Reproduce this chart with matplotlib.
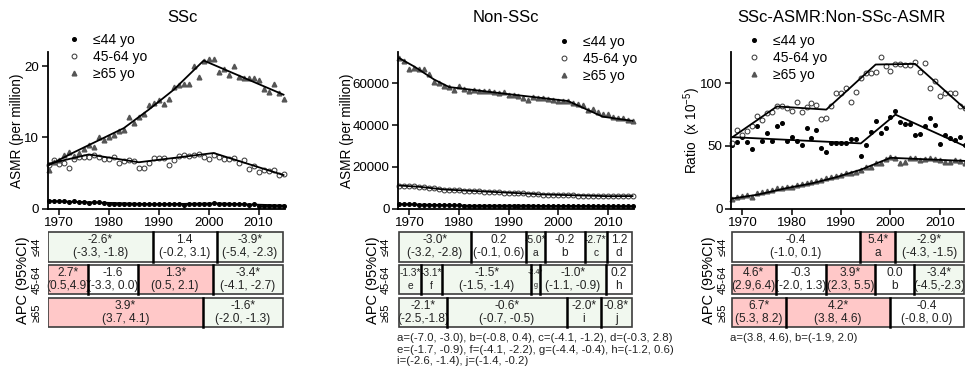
import numpy as np
import matplotlib
matplotlib.use("Agg")
import matplotlib.pyplot as plt
from matplotlib.patches import Rectangle
from matplotlib import transforms

plt.rcParams["font.family"] = ["Liberation Sans", "DejaVu Sans"]
plt.rcParams["mathtext.default"] = "regular"

W, H = 965, 373

years = list(range(1968, 2016))
age_labels = ["≤44 yo", "45-64 yo", "≥65 yo"]
row_labels = ["≤44", "45-64", "≥65"]

# ---- SSc, ASMR (per million)
ssc_le44 = [1.0, 1.1, 1.1, 1.0, 0.9, 1.1, 0.9, 0.9, 0.8, 0.9,
            0.9, 0.8, 0.7, 0.7, 0.7, 0.6, 0.7, 0.6, 0.7, 0.6,
            0.6, 0.6, 0.6, 0.6, 0.6, 0.6, 0.6, 0.5, 0.6, 0.7,
            0.6, 0.7, 0.7, 0.8, 0.7, 0.7, 0.7, 0.6, 0.6, 0.6,
            0.5, 0.6, 0.4, 0.4, 0.4, 0.4, 0.4, 0.3]
ssc_45_64 = [6.1, 6.8, 6.3, 6.4, 5.7, 6.9, 7.2, 7.3, 7.3, 7.5,
             7.3, 7.0, 6.9, 7.3, 6.4, 6.7, 6.8, 6.7, 5.7, 5.7,
             6.4, 7.1, 7.1, 7.1, 6.1, 6.8, 7.4, 7.5, 7.4, 7.5,
             7.7, 7.2, 7.0, 7.5, 7.3, 7.0, 7.0, 7.1, 6.4, 6.8,
             5.6, 6.0, 5.2, 5.4, 5.3, 5.4, 4.7, 4.8]
ssc_ge65 = [5.4, 6.5, 6.8, 7.5, 8.0, 7.4, 7.8, 8.4, 8.9, 8.7,
            10.0, 9.6, 10.0, 10.3, 10.9, 11.1, 12.9, 12.0, 12.8, 13.3,
            14.5, 14.8, 15.3, 14.7, 15.4, 17.1, 17.4, 17.5, 17.5, 20.1,
            18.5, 20.8, 21.0, 21.0, 19.2, 19.6, 18.7, 20.1, 18.5, 18.3,
            18.4, 18.4, 18.0, 16.8, 16.4, 17.5, 16.3, 15.4]
# joinpoint fits: (knot years, fitted values)
ssc_fit_le44 = ([1968, 1989, 2002, 2015], [1.05, 0.60, 0.72, 0.42])
ssc_fit_45_64 = ([1968, 1976, 1986, 2001, 2015], [6.3, 7.6, 6.5, 7.8, 4.7])
ssc_fit_ge65 = ([1968, 1973, 1978, 1983, 1988, 1993, 1999, 2015],
                [6.1, 7.9, 9.6, 11.3, 13.9, 16.7, 20.8, 16.0])

# ---- Non-SSc, ASMR (per million)
nonssc_le44 = [2100, 2040, 1980, 1920, 1860, 1800, 1750, 1700, 1650, 1600,
               1550, 1500, 1460, 1410, 1370, 1380, 1380, 1380, 1390, 1390,
               1390, 1390, 1400, 1400, 1400, 1400, 1400, 1330, 1260, 1200,
               1200, 1200, 1190, 1190, 1190, 1180, 1180, 1180, 1150, 1120,
               1090, 1060, 1030, 1040, 1060, 1070, 1080, 1090]
nonssc_45_64 = [11000, 10900, 10700, 10600, 10400, 10100, 9800, 9600, 9300, 9100,
                8900, 8800, 8700, 8600, 8400, 8300, 8200, 8100, 7900, 7800,
                7700, 7600, 7500, 7400, 7300, 7200, 7100, 7000, 6900, 6700,
                6700, 6600, 6500, 6400, 6300, 6300, 6200, 6100, 6100, 6000,
                6000, 5900, 5900, 5900, 5900, 5900, 6000, 5900]
nonssc_ge65 = [72300, 70800, 67000, 67500, 66900, 66700, 64300, 60800, 60300, 58700,
               58400, 56600, 58800, 57200, 56100, 56900, 56400, 56300, 56100, 55600,
               55300, 56000, 54600, 54200, 53700, 52900, 51900, 53500, 52900, 52800,
               52400, 52100, 51700, 51700, 51300, 50400, 50300, 49500, 47400, 47800,
               46100, 45200, 45400, 43800, 43600, 43200, 42500, 42000]
nonssc_fit_le44 = ([1968, 1982, 1994, 1997, 2005, 2010, 2015],
                   [2100, 1370, 1400, 1200, 1180, 1030, 1090])
nonssc_fit_45_64 = ([1968, 1972, 1977, 1995, 1996, 2010, 2015],
                    [11000, 10400, 9100, 7000, 6800, 5900, 5950])
nonssc_fit_ge65 = ([1968, 1971, 1975, 1978, 1990, 2002, 2009, 2015],
                   [72000, 68000, 61800, 58200, 54800, 51500, 44000, 42000])

# ---- SSc-ASMR : Non-SSc-ASMR ratio (x 10^-5)
ratio_le44 = [50.7, 53.3, 57.3, 53.3, 47.4, 65.8, 54, 60.5, 54, 65.8,
              68.4, 54, 57, 54, 50.7, 64.5, 56, 63, 48, 45.3,
              52, 52, 52, 52, 55.4, 55.4, 42, 50.6, 60.8, 69.8,
              60, 64.5, 73.3, 78, 69.3, 67.7, 67.7, 58.6, 59.2, 66,
              72.5, 66.4, 51.2, 58.6, 56, 54.6, 57.3, 51]
ratio_45_64 = [52, 62.5, 58.5, 62, 66, 74, 70.5, 76, 77, 81.5,
               82, 80.5, 78, 85, 77, 81, 84.5, 83, 71.5, 72.5,
               81.5, 92.5, 92.5, 96.5, 84.8, 93.3, 104.5, 108.5, 108, 109,
               121, 114, 110, 115.5, 115.5, 114.6, 114.6, 117.3, 108.8, 116,
               96.5, 101.8, 90, 92.5, 92.5, 92.5, 82, 80]
ratio_ge65 = [7.5, 9.5, 10.0, 11.0, 9.5, 12.0, 12.8, 14.0, 15.0, 16.0,
              16.5, 17.0, 17.5, 18.5, 19.5, 20.0, 21.0, 22.0, 22.5, 24.0,
              25.0, 26.0, 27.0, 28.5, 28.0, 29.5, 31.0, 33.0, 33.5, 36.0,
              36.5, 39.5, 41.0, 40.0, 36.5, 37.5, 40.5, 40.0, 39.0, 39.5,
              40.0, 39.5, 38.5, 37.0, 37.5, 39.0, 38.0, 36.5]
ratio_fit_le44 = ([1968, 1994, 2001, 2015], [57, 52, 75, 50])
ratio_fit_45_64 = ([1968, 1977, 1987, 1997, 2005, 2015], [57, 81.5, 79, 115, 115.5, 80])
ratio_fit_ge65 = ([1968, 1973, 1979, 1984, 1989, 1994, 2000, 2015],
                  [8.0, 11.0, 16.3, 20.0, 25.0, 31.0, 40.5, 38.0])

# ---- APC tables: joinpoint years per row, cell texts, significance
ssc_breaks = [[1988.8, 2001.6], [1975.8, 1985.8, 2000.8], [1998.8]]
ssc_apc = [[("-2.6*", "(-3.3, -1.8)"), ("1.4", "(-0.2, 3.1)"), ("-3.9*", "(-5.4, -2.3)")],
           [("2.7*", "(0.5,4.9)"), ("-1.6", "(-3.3, 0.0)"), ("1.3*", "(0.5, 2.1)"), ("-3.4*", "(-4.1, -2.7)")],
           [("3.9*", "(3.7, 4.1)"), ("-1.6*", "(-2.0, -1.3)")]]
ssc_sig = [["dn", "ns", "dn"], ["up", "ns", "up", "dn"], ["up", "dn"]]

nonssc_breaks = [[1982.4, 1993.6, 1997.4, 2005.4, 2009.8],
                 [1972.4, 1976.6, 1994.6, 1996.4, 2009.6],
                 [1977.6, 2001.8, 2008.6]]
nonssc_apc = [[("-3.0*", "(-3.2, -2.8)"), ("0.2", "(-0.1, 0.6)"), ("-5.0*", "a"),
               ("-0.2", "b"), ("-2.7*", "c"), ("1.2", "d")],
              [("-1.3*", "e"), ("-3.1*", "f"), ("-1.5*", "(-1.5, -1.4)"), ("-2.4*", "g"),
               ("-1.0*", "(-1.1, -0.9)"), ("0.2", "h")],
              [("-2.1*", "(-2.5,-1.8)"), ("-0.6*", "(-0.7, -0.5)"), ("-2.0*", "i"), ("-0.8*", "j")]]
nonssc_sig = [["dn", "ns", "dn", "ns", "dn", "ns"],
              ["dn", "dn", "dn", "dn", "dn", "ns"],
              ["dn", "dn", "dn", "dn"]]
nonssc_note = ("a=(-7.0, -3.0), b=(-0.8, 0.4), c=(-4.1, -1.2), d=(-0.3, 2.8)\n"
               "e=(-1.7, -0.9), f=(-4.1, -2.2), g=(-4.4, -0.4), h=(-1.2, 0.6)\n"
               "i=(-2.6, -1.4), j=(-1.4, -0.2)")

ratio_breaks = [[1993.8, 2001.0], [1976.8, 1987.0, 1996.8, 2004.8], [1978.8, 2000.0]]
ratio_apc = [[("-0.4", "(-1.0, 0.1)"), ("5.4*", "a"), ("-2.9*", "(-4.3, -1.5)")],
             [("4.6*", "(2.9,6.4)"), ("-0.3", "(-2.0, 1.3)"), ("3.9*", "(2.3, 5.5)"),
              ("0.0", "b"), ("-3.4*", "(-4.5,-2.3)")],
             [("6.7*", "(5.3, 8.2)"), ("4.2*", "(3.8, 4.6)"), ("-0.4", "(-0.8, 0.0)")]]
ratio_sig = [["ns", "up", "dn"], ["up", "ns", "up", "ns", "dn"], ["up", "up", "ns"]]
ratio_note = "a=(3.8, 4.6), b=(-1.9, 2.0)"

FILL = {"up": "#ffc8c8", "dn": "#f1f8ef", "ns": "white"}
XLIM = (1967.7, 2015.3)
T0, T1 = 1967.85, 2014.8


def px_rect(left, top, right, bottom):
    return [left / W, 1 - bottom / H, (right - left) / W, (bottom - top) / H]


def draw_plot(ax, series, fits, ylim, yticks, ylabel, ylabel_dx, legend_xy):
    styles = [dict(marker="o", ms=2.6, color="black"),
              dict(marker="o", ms=3.5, color="#333333", mfc="white", mew=0.7),
              dict(marker="^", ms=3.4, color="#555555")]
    for vals, (kx, ky), st, lab in zip(series, fits, styles, age_labels):
        ax.plot(years, vals, ls="none", label=lab, zorder=2, clip_on=False, **st)
        ax.plot(kx, ky, color="black", lw=1.3, zorder=3)
    ax.set_xlim(*XLIM)
    ax.set_ylim(*ylim)
    ax.set_xticks([1970, 1980, 1990, 2000, 2010])
    ax.set_yticks(yticks)
    for s in ["top", "right"]:
        ax.spines[s].set_visible(False)
    for s in ["left", "bottom"]:
        ax.spines[s].set_linewidth(1.3)
    ax.tick_params(direction="out", length=4, width=1.1, labelsize=9.6, pad=2)
    width_px = ax.get_position().width * W
    ax.text(ylabel_dx / width_px, 0.5, ylabel, transform=ax.transAxes,
            rotation=90, ha="center", va="center", fontsize=9.8)
    ax.legend(loc="upper left", bbox_to_anchor=(legend_xy[0] / W, 1 - legend_xy[1] / H),
              bbox_transform=fig.transFigure, frameon=False, fontsize=10,
              handlelength=1.0, handletextpad=0.85, labelspacing=0.2,
              borderpad=0, borderaxespad=0)


def draw_table(ax, breaks, apc, sig, row_dx, apc_dx):
    ax.set_xlim(*XLIM)
    ax.set_ylim(3, 0)
    ax.axis("off")
    width_px = ax.get_position().width * W
    for r in range(3):
        edges = [T0] + breaks[r] + [T1]
        y0, h = r + 0.04, 0.9
        for k, ((top, bot), sg) in enumerate(zip(apc[r], sig[r])):
            a, b = edges[k], edges[k + 1]
            ax.add_patch(Rectangle((a, y0), b - a, h, facecolor=FILL[sg],
                                   edgecolor="none", zorder=1))
            if b - a < 2.5:
                fs = 5.2
            elif b - a < 5:
                fs = 7.4
            else:
                fs = 8.6
            ax.text((a + b) / 2, y0 + h * 0.27, top, ha="center", va="center",
                    fontsize=fs, color="#222222", zorder=3)
            ax.text((a + b) / 2, y0 + h * 0.71, bot, ha="center", va="center",
                    fontsize=fs, color="#222222", zorder=3)
        ax.add_patch(Rectangle((T0, y0), T1 - T0, h, fill=False,
                               edgecolor="#3c3c3c", lw=1.2, zorder=4))
        for bx in breaks[r]:
            ax.plot([bx, bx], [y0, y0 + h], color="black", lw=1.8, zorder=5)
        ax.text(row_dx / width_px, y0 + h / 2, row_labels[r],
                transform=transforms.blended_transform_factory(ax.transAxes, ax.transData),
                rotation=90, ha="center", va="center", fontsize=8)
    ax.text(apc_dx / width_px, 0.5, "APC (95%CI)", transform=ax.transAxes,
            rotation=90, ha="center", va="center", fontsize=10.5)


fig = plt.figure(figsize=(W / 100, H / 100), dpi=100)

panels = [
    dict(left=47.5, right=285, title="SSc", tx=182,
         series=[ssc_le44, ssc_45_64, ssc_ge65],
         fits=[ssc_fit_le44, ssc_fit_45_64, ssc_fit_ge65],
         ylim=(0, 22), yticks=[0, 10, 20], ylabel="ASMR (per million)", ylabel_dx=-30.5,
         legend_xy=(67, 33), breaks=ssc_breaks, apc=ssc_apc, sig=ssc_sig,
         row_dx=-10.5, apc_dx=-24),
    dict(left=398, right=634, title="Non-SSc", tx=506,
         series=[nonssc_le44, nonssc_45_64, nonssc_ge65],
         fits=[nonssc_fit_le44, nonssc_fit_45_64, nonssc_fit_ge65],
         ylim=(0, 75000), yticks=[0, 20000, 40000, 60000], ylabel="ASMR (per million)",
         ylabel_dx=-51, legend_xy=(557, 35), breaks=nonssc_breaks, apc=nonssc_apc,
         sig=nonssc_sig, row_dx=-12, apc_dx=-25),
    dict(left=731, right=966, title="SSc-ASMR:Non-SSc-ASMR", tx=841,
         series=[ratio_le44, ratio_45_64, ratio_ge65],
         fits=[ratio_fit_le44, ratio_fit_45_64, ratio_fit_ge65],
         ylim=(0, 125), yticks=[0, 50, 100], ylabel="Ratio  (x 10$^{-5}$)",
         ylabel_dx=-39, legend_xy=(747, 34), breaks=ratio_breaks, apc=ratio_apc,
         sig=ratio_sig, row_dx=-8, apc_dx=-22),
]

for p in panels:
    ax = fig.add_axes(px_rect(p["left"], 52, p["right"], 208.5))
    draw_plot(ax, p["series"], p["fits"], p["ylim"], p["yticks"], p["ylabel"],
              p["ylabel_dx"], p["legend_xy"])
    fig.text(p["tx"] / W, 1 - 17 / H, p["title"], ha="center", va="center", fontsize=12)
    tax = fig.add_axes(px_rect(p["left"], 231, p["right"], 329))
    draw_table(tax, p["breaks"], p["apc"], p["sig"], p["row_dx"], p["apc_dx"])

fig.text(397 / W, 1 - 333 / H, nonssc_note, ha="left", va="top", fontsize=8.2,
         linespacing=1.2, color="#222222")
fig.text(730 / W, 1 - 333 / H, ratio_note, ha="left", va="top", fontsize=8.2,
         color="#222222")

fig.savefig("out.png", dpi=100)
